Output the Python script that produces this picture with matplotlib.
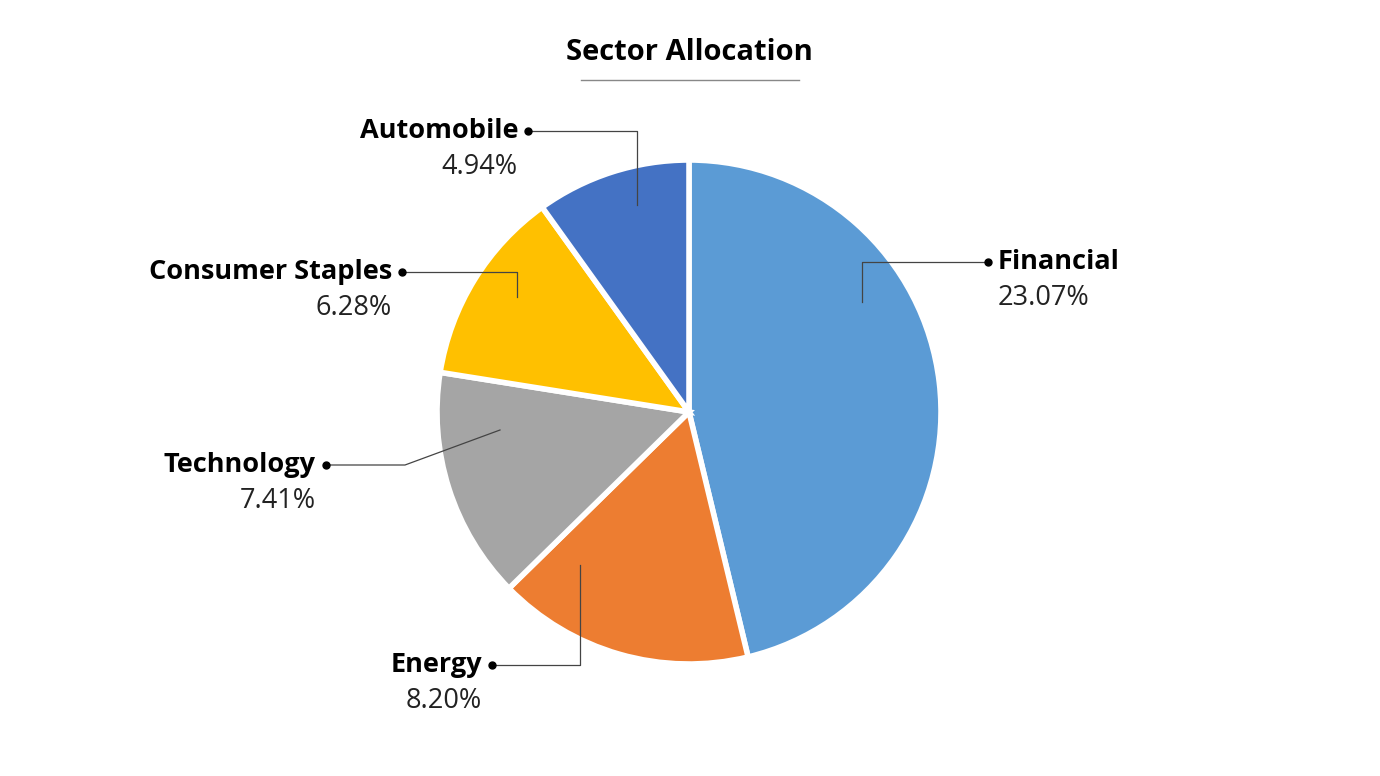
import matplotlib.pyplot as plt

sectors = ["Financial", "Energy", "Technology", "Consumer Staples", "Automobile"]
weights = [23.07, 8.20, 7.41, 6.28, 4.94]
colors = ["#5B9BD5", "#ED7D31", "#A5A5A5", "#FFC000", "#4472C4"]

# label anchor: (dot x, dot y, elbow x, end y, text side)
leaders = [
    (988, 262, 862, 302, "left"),
    (492, 665, 580, 565, "right"),
    (326, 465, 405, 430, "right"),
    (402, 272, 517, 297, "right"),
    (528, 131, 637, 205, "right"),
]

fig = plt.figure(figsize=(13.8, 7.76), dpi=100)
ax = fig.add_axes([0, 0, 1, 1])

# y axis is flipped (pixel-like coords), so angles run mirrored
ax.pie(weights, colors=colors, startangle=-90, counterclock=True,
       center=(689, 412), radius=252, frame=True,
       wedgeprops=dict(edgecolor="white", linewidth=4))
ax.set_xlim(0, 1380)
ax.set_ylim(776, 0)
ax.set_aspect("equal")
ax.axis("off")

font = "Open Sans"
ax.text(689, 52, "Sector Allocation", ha="center", va="center",
        fontsize=21, fontweight="bold", family=font)
ax.plot([581, 799], [80, 80], color="#888888", lw=1)

for name, w, (dx, dy, ex, ey, side) in zip(sectors, weights, leaders):
    if name == "Technology":
        ax.plot([dx, ex, 500], [dy, dy, ey], color="#444444", lw=0.9)
    else:
        ax.plot([dx, ex, ex], [dy, dy, ey], color="#444444", lw=0.9)
    ax.plot(dx, dy, "o", color="black", ms=5)
    if side == "left":
        tx, ha = dx + 10, "left"
    else:
        tx, ha = dx - 10, "right"
    ax.text(tx, dy, name, ha=ha, va="center", fontsize=19.5,
            fontweight="bold", family=font)
    ax.text(tx, dy + 36, f"{w:.2f}%", ha=ha, va="center", fontsize=19.5,
            family=font, color="#222222")

fig.savefig("out.png", dpi=100)
